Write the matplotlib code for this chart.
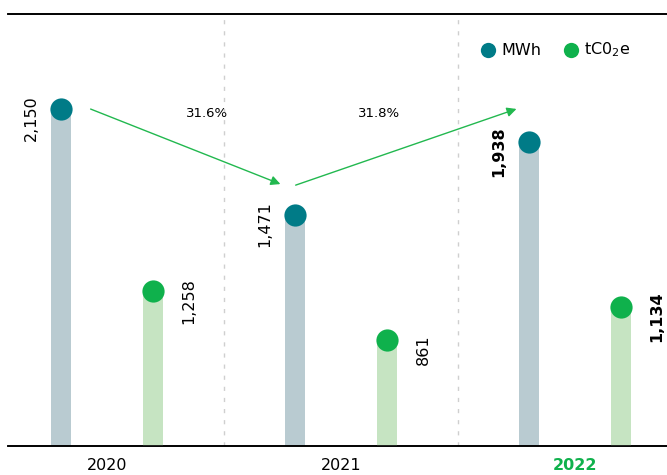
import numpy as np
import matplotlib.pyplot as plt

# Energy use and emissions by year
years = ['2020', '2021', '2022']
mwh = [2150, 1471, 1938]
tco2e = [1258, 861, 1134]
changes = ['31.6%', '31.8%']

teal = '#007b87'
teal_bar = '#b9cbd1'
green = '#0fb14c'
green_bar = '#c6e4c2'
arrow_green = '#22b84f'

plt.rcParams['font.family'] = ['DejaVu Sans']

fig = plt.figure(figsize=(6.67, 4.75), dpi=100)
ax = fig.add_axes([8 / 667, 29 / 475, 659 / 667, 432 / 475])
ax2 = ax.twinx()

x = np.arange(len(years))
off = 0.195
w = 0.086

ax.set_xlim(-0.423, 2.393)
ax.set_ylim(0, 2752)
ax2.set_ylim(0, 3512)

# bars with a dot on top
ax.bar(x - off, mwh, width=w, color=teal_bar, zorder=2)
ax.plot(x - off, mwh, 'o', ms=16, color=teal, mec='none', zorder=3)
ax2.bar(x + off, tco2e, width=w, color=green_bar, zorder=2)
ax2.plot(x + off, tco2e, 'o', ms=16, color=green, mec='none', zorder=3)

# value labels
for i, v in enumerate(mwh):
    bold = 'bold' if i == 2 else 'normal'
    ax.text(x[i] - off - 0.13, v - 60, f'{v:,}', rotation=90, ha='center', va='center',
            fontsize=11.5, fontweight=bold, color='black')
for i, v in enumerate(tco2e):
    bold = 'bold' if i == 2 else 'normal'
    ax2.text(x[i] + off + 0.155, v - 80, f'{v:,}', rotation=90, ha='center', va='center',
             fontsize=11.5, fontweight=bold, color='black')

# year-on-year change arrows
ax.annotate('', xy=(0.752, 1662), xytext=(-0.081, 2153),
            arrowprops=dict(arrowstyle='-|>', color=arrow_green, lw=1, mutation_scale=14))
ax.annotate('', xy=(1.761, 2153), xytext=(0.795, 1656),
            arrowprops=dict(arrowstyle='-|>', color=arrow_green, lw=1, mutation_scale=14))
ax.text(0.427, 2121, changes[0], ha='center', va='center', fontsize=9.5)
ax.text(1.162, 2121, changes[1], ha='center', va='center', fontsize=9.5)

# dashed year separators
for sx in [0.5, 1.5]:
    ax.axvline(sx, color='#cfcfcf', lw=1, ls=(0, (3, 5)), zorder=1)

# legend
ax.plot(1.627, 2522, 'o', ms=11, color=teal, mec='none', clip_on=False)
ax.text(1.685, 2522, 'MWh', va='center', fontsize=11.5)
ax.plot(1.983, 2522, 'o', ms=11, color=green, mec='none', clip_on=False)
ax.text(2.04, 2522, 'tC0$_2$e', va='center', fontsize=11.5)

for a in (ax, ax2):
    a.set_yticks([])
    a.spines['left'].set_visible(False)
    a.spines['right'].set_visible(False)
    a.spines['top'].set_linewidth(1.2)
    a.spines['bottom'].set_linewidth(1.2)

ax.set_xticks(x)
ax.set_xticklabels(years, fontsize=11.5)
ax.tick_params(axis='x', length=0, pad=9)
lbl = ax.get_xticklabels()[2]
lbl.set_color(green)
lbl.set_fontweight('bold')

fig.savefig('out.png', dpi=100)
